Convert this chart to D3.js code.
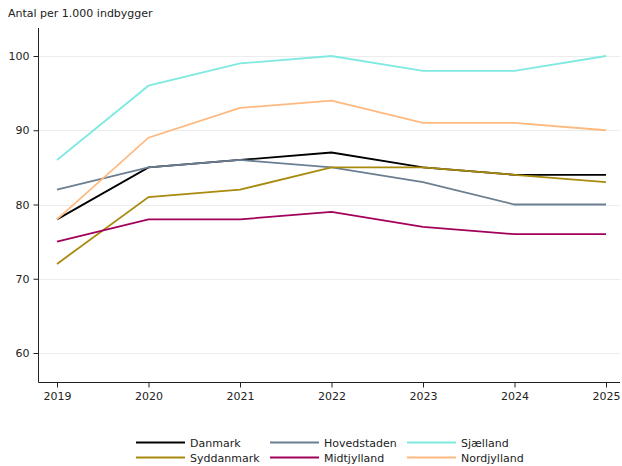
<!DOCTYPE html>
<html>
<head>
<meta charset="utf-8">
<script src="https://cdn.jsdelivr.net/npm/d3@7"></script>
<style>
html,body{margin:0;padding:0;background:#fff;}
svg{display:block;font-family:"DejaVu Sans",Verdana,sans-serif;}
</style>
</head>
<body>
<svg id="chart" width="622" height="466"></svg>
<script>
const years = [2019, 2020, 2021, 2022, 2023, 2024, 2025];
const yTicks = [60, 70, 80, 90, 100];
const seriesNames = ["Danmark", "Hovedstaden", "Sjælland", "Syddanmark", "Midtjylland", "Nordjylland"];
const danmark     = [78, 85, 86, 87, 85, 84, 84];
const hovedstaden = [82, 85, 86, 85, 83, 80, 80];
const sjaelland   = [86, 96, 99, 100, 98, 98, 100];
const syddanmark  = [72, 81, 82, 85, 85, 84, 83];
const midtjylland = [75, 78, 78, 79, 77, 76, 76];
const nordjylland = [78, 89, 93, 94, 91, 91, 90];
const colors = ["#000000", "#6b7f92", "#7fe9e2", "#a88a0e", "#a2005a", "#ffb97f"];
const yTitle = "Antal per 1.000 indbygger";

const values = [danmark, hovedstaden, sjaelland, syddanmark, midtjylland, nordjylland];
const series = seriesNames.map((n, i) => ({name: n, color: colors[i], values: values[i]}));

const svg = d3.select("#chart");
const mLeft = 38.5, mRight = 620, mTop = 28, mBottom = 382.5;

const x = d3.scaleLinear().domain([2019, 2025]).range([57, 606]);
const y = d3.scaleLinear().domain([60, 100]).range([353, 56]);

// gridlines
svg.append("g").selectAll("line").data(yTicks).join("line")
  .attr("x1", mLeft).attr("x2", mRight)
  .attr("y1", d => Math.round(y(d)) + 0.5).attr("y2", d => Math.round(y(d)) + 0.5)
  .attr("stroke", "#ececec").attr("stroke-width", 1);

// y axis
const yAxis = d3.axisLeft(y).tickValues(yTicks).tickSize(5).tickPadding(4).tickFormat(d3.format("d"));
const gy = svg.append("g").attr("transform", `translate(${mLeft},0)`).call(yAxis);
gy.select(".domain").remove();
gy.append("line").attr("x1", 0).attr("x2", 0).attr("y1", mTop).attr("y2", mBottom).attr("stroke", "#222");
gy.selectAll(".tick line").attr("stroke", "#222");
gy.selectAll(".tick text").attr("font-size", 11).attr("fill", "#222").attr("font-family", "DejaVu Sans");

// x axis
const xAxis = d3.axisBottom(x).tickValues(years).tickSize(5).tickPadding(5).tickFormat(d3.format("d"));
const gx = svg.append("g").attr("transform", `translate(0,${mBottom})`).call(xAxis);
gx.select(".domain").remove();
gx.append("line").attr("x1", mLeft).attr("x2", mRight).attr("y1", 0).attr("y2", 0).attr("stroke", "#222");
gx.selectAll(".tick line").attr("stroke", "#222");
gx.selectAll(".tick text").attr("font-size", 11).attr("fill", "#222").attr("font-family", "DejaVu Sans");

// title
svg.append("text").attr("x", 8).attr("y", 17).attr("font-size", 11).attr("fill", "#222").text(yTitle);

// lines
const line = d3.line().x((d, i) => x(years[i])).y(d => y(d));
svg.append("g").selectAll("path").data(series).join("path")
  .attr("d", d => line(d.values))
  .attr("fill", "none").attr("stroke", d => d.color).attr("stroke-width", 1.8)
  .attr("stroke-linejoin", "miter");

// legend
const colX = [136, 270, 407];
const colW = [49, 49, 49];
const rowY = [442.5, 457.5];
const lg = svg.append("g");
seriesNames.forEach((name, i) => {
  const s = series[i];
  const c = i % 3, r = Math.floor(i / 3);
  lg.append("line").attr("x1", colX[c]).attr("x2", colX[c] + colW[c])
    .attr("y1", rowY[r]).attr("y2", rowY[r]).attr("stroke", s.color).attr("stroke-width", 1.8);
  lg.append("text").attr("x", colX[c] + colW[c] + 5).attr("y", rowY[r] + 4)
    .attr("font-size", 11).attr("fill", "#222").text(name);
});
</script>
</body>
</html>
